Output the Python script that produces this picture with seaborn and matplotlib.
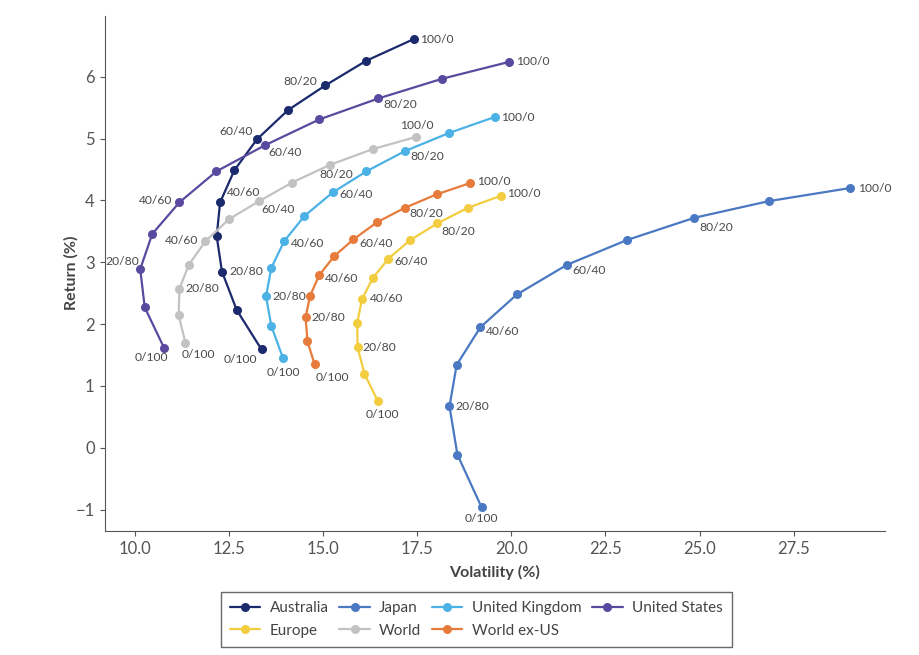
import matplotlib
matplotlib.use("Agg")
import matplotlib.pyplot as plt
import seaborn as sns
import pandas as pd

# equity/bond mixes, 100/0 down to 0/100
mixes = ["100/0", "90/10", "80/20", "70/30", "60/40", "50/50",
         "40/60", "30/70", "20/80", "10/90", "0/100"]
labelled = ["100/0", "80/20", "60/40", "40/60", "20/80", "0/100"]

australia_vol = [17.41, 16.15, 15.06, 14.07, 13.25, 12.65, 12.27, 12.18, 12.32, 12.71, 13.37]
australia_ret = [6.61, 6.26, 5.86, 5.46, 4.99, 4.49, 3.97, 3.42, 2.85, 2.23, 1.59]

japan_vol = [28.98, 26.84, 24.86, 23.07, 21.48, 20.15, 19.18, 18.55, 18.36, 18.57, 19.21]
japan_ret = [4.20, 3.99, 3.72, 3.36, 2.96, 2.48, 1.95, 1.34, 0.67, -0.11, -0.96]

uk_vol = [19.56, 18.34, 17.18, 16.15, 15.26, 14.51, 13.97, 13.63, 13.49, 13.63, 13.94]
uk_ret = [5.35, 5.09, 4.80, 4.47, 4.13, 3.75, 3.34, 2.91, 2.45, 1.97, 1.45]

us_vol = [19.93, 18.17, 16.47, 14.90, 13.45, 12.17, 11.19, 10.47, 10.15, 10.27, 10.78]
us_ret = [6.24, 5.97, 5.65, 5.31, 4.89, 4.47, 3.97, 3.46, 2.89, 2.27, 1.62]

europe_vol = [19.74, 18.84, 18.04, 17.32, 16.74, 16.33, 16.04, 15.91, 15.92, 16.10, 16.46]
europe_ret = [4.08, 3.88, 3.63, 3.36, 3.06, 2.75, 2.41, 2.02, 1.63, 1.20, 0.75]

world_vol = [17.48, 16.32, 15.20, 14.18, 13.31, 12.51, 11.88, 11.44, 11.19, 11.17, 11.35]
world_ret = [5.03, 4.83, 4.58, 4.29, 3.99, 3.70, 3.34, 2.96, 2.57, 2.14, 1.70]

exus_vol = [18.90, 18.02, 17.17, 16.44, 15.81, 15.30, 14.90, 14.66, 14.54, 14.59, 14.78]
exus_ret = [4.28, 4.10, 3.88, 3.65, 3.37, 3.10, 2.79, 2.46, 2.11, 1.72, 1.35]

series = {
    "Australia": (australia_vol, australia_ret),
    "Japan": (japan_vol, japan_ret),
    "United Kingdom": (uk_vol, uk_ret),
    "United States": (us_vol, us_ret),
    "Europe": (europe_vol, europe_ret),
    "World": (world_vol, world_ret),
    "World ex-US": (exus_vol, exus_ret),
}

colors = {
    "Australia": "#1a2a6c",
    "Japan": "#4a78c2",
    "United Kingdom": "#4cb2e6",
    "United States": "#5a4a9f",
    "Europe": "#f2cd3f",
    "World": "#c2c2c2",
    "World ex-US": "#e77b3c",
}

# label placement (dx, dy in points, ha) for the labelled mixes
label_pos = {
    "Australia": [(4.3, 0, "left"), (-5.8, 2.9, "right"), (-2.9, 5.8, "right"),
                  (5, 7.2, "left"), (5, 0, "left"), (-3, -7.2, "right")],
    "Japan": [(5.8, 0, "left"), (3.6, -7.2, "left"), (3.6, -4.3, "left"),
              (4.3, -3, "left"), (4.3, 0, "left"), (0, -8, "center")],
    "United Kingdom": [(4.3, 0, "left"), (3.6, -4.3, "left"), (5, -1.4, "left"),
                       (5, -1.4, "left"), (4.3, 0, "left"), (0, -10.6, "center")],
    "United States": [(5, 0, "left"), (3.6, -4.3, "left"), (2.9, -5, "left"),
                      (-5, 1.4, "right"), (-0.7, 5.8, "right"), (-9.4, -7.2, "center")],
    "Europe": [(4.3, 1.4, "left"), (2.9, -5.8, "left"), (4.3, -2.2, "left"),
               (5.8, 0, "left"), (3.6, 0, "left"), (2.9, -9.4, "center")],
    "World": [(0, 7.9, "center"), (4.3, -7.2, "center"), (1.4, -5.8, "left"),
              (-5, 0.7, "right"), (4.3, 0, "left"), (-2.9, -8.6, "left")],
    "World ex-US": [(5, 1.4, "left"), (3.6, -4.3, "left"), (4.3, -2.9, "left"),
                    (4.3, -2.2, "left"), (4.3, 0, "left"), (0.7, -9.4, "left")],
}

rows = []
for name, (vol, ret) in series.items():
    for m, v, r in zip(mixes, vol, ret):
        rows.append({"Country": name, "Mix": m, "Volatility": v, "Return": r})
df = pd.DataFrame(rows)

sns.set_style("ticks")
plt.rcParams["font.family"] = ["Lato", "DejaVu Sans"]

fig = plt.figure(figsize=(9.19, 6.55), dpi=100)
ax = fig.add_axes([0.114, 0.19, 0.849, 0.786])

sns.lineplot(data=df, x="Volatility", y="Return", hue="Country",
             hue_order=list(series.keys()), palette=colors, sort=False,
             estimator=None, marker="o", markersize=6.5, markeredgewidth=0,
             linewidth=1.6, ax=ax)

for name, (vol, ret) in series.items():
    for lab, (dx, dy, ha) in zip(labelled, label_pos[name]):
        i = mixes.index(lab)
        ax.annotate(lab, (vol[i], ret[i]), xytext=(dx, dy), textcoords="offset points",
                    ha=ha, va="center", fontsize=8.7, color="#4a4a4a")

ax.set_xlabel("Volatility (%)", fontsize=11.5, fontweight="bold", color="#444444", labelpad=6)
ax.set_ylabel("Return (%)", fontsize=11.5, fontweight="bold", color="#444444", labelpad=-2)
ax.tick_params(labelsize=12, colors="#555555", length=3.8)
for s in ["left", "bottom"]:
    ax.spines[s].set_color("#555555")
sns.despine(ax=ax)

handles, labels = ax.get_legend_handles_labels()
order = ["Australia", "Europe", "Japan", "World", "United Kingdom", "World ex-US", "United States"]
hmap = dict(zip(labels, handles))
leg = ax.legend([hmap[k] for k in order], order, ncol=4, loc="upper center",
                bbox_to_anchor=(0.476, -0.105), frameon=True, fancybox=False,
                fontsize=11, handlelength=2, columnspacing=0.7, handletextpad=0.6,
                borderpad=0.6, labelspacing=0.55)
leg.get_frame().set_edgecolor("#444444")
leg.get_frame().set_linewidth(1.0)
for t in leg.get_texts():
    t.set_color("#444444")

fig.savefig("out.png", dpi=100)
